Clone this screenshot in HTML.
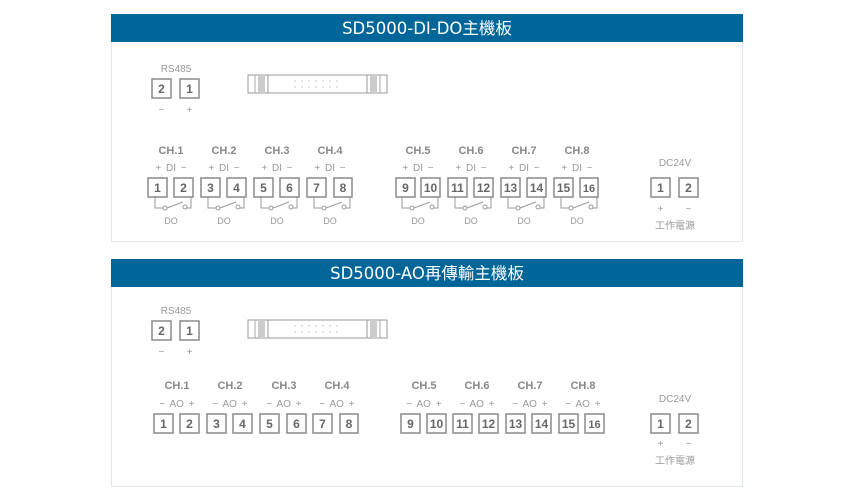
<!DOCTYPE html>
<html><head><meta charset="utf-8"><style>
body{margin:0;background:#fff;width:854px;height:500px;overflow:hidden}
svg{display:block}
text{font-family:"Liberation Sans","Noto Sans CJK TC",sans-serif;fill:#777}
.b{fill:#fff;stroke:#8a8a8a;stroke-width:1.5}
.n{font-size:12px;font-weight:bold;fill:#666;text-anchor:middle}
.ch{font-size:11px;font-weight:bold;fill:#888;text-anchor:middle}
.s{font-size:10px;fill:#999;text-anchor:middle}
.d{font-size:10px;fill:#999;text-anchor:middle;word-spacing:2px}
.l{fill:none;stroke:#999;stroke-width:1}
.h{font-size:16.5px;fill:#fff;text-anchor:middle;font-family:"DejaVu Sans","Noto Sans CJK TC",sans-serif}
</style></head><body>
<svg width="854" height="500" xmlns="http://www.w3.org/2000/svg">
<defs>
<g id="conn">
<rect x="0" y="0" width="139" height="18" fill="#fff" stroke="#999"/>
<rect x="10" y="1" width="7" height="16" fill="#ccc"/><line x1="20" y1="0" x2="20" y2="18" stroke="#999"/><line x1="7" y1="0" x2="7" y2="18" stroke="#aaa"/>
<rect x="122" y="1" width="7" height="16" fill="#ccc"/><line x1="119" y1="0" x2="119" y2="18" stroke="#999"/><line x1="132" y1="0" x2="132" y2="18" stroke="#aaa"/>
<g fill="#999"><circle cx="47" cy="6" r=".6"/><circle cx="54" cy="6" r=".6"/><circle cx="61" cy="6" r=".6"/><circle cx="68" cy="6" r=".6"/><circle cx="75" cy="6" r=".6"/><circle cx="82" cy="6" r=".6"/><circle cx="89" cy="6" r=".6"/>
<circle cx="47" cy="12" r=".6"/><circle cx="54" cy="12" r=".6"/><circle cx="61" cy="12" r=".6"/><circle cx="68" cy="12" r=".6"/><circle cx="75" cy="12" r=".6"/><circle cx="82" cy="12" r=".6"/><circle cx="89" cy="12" r=".6"/></g>
</g>
<g id="sw"><path class="l" d="M0 0V11H8M12 11L28 5M32 11H36V0"/><circle class="l" cx="10" cy="11" r="2" fill="#fff"/><circle class="l" cx="30" cy="10" r="2" fill="#fff"/></g>
</defs>
<!-- panel 1 -->
<rect x="111.5" y="14.5" width="631" height="227" fill="#fff" stroke="#dfe6ec"/>
<rect x="111" y="14" width="632" height="28" fill="#00669a"/>
<text class="h" x="427" y="34">SD5000-DI-DO主機板</text>
<text class="s" x="176" y="72">RS485</text>
<rect class="b" x="152" y="79" width="19" height="19"/><text class="n" x="161.5" y="93">2</text>
<rect class="b" x="180" y="79" width="19" height="19"/><text class="n" x="189.5" y="93">1</text>
<text class="s" x="161.5" y="113">−</text><text class="s" x="189.5" y="113">+</text>
<use href="#conn" x="248" y="75"/>
<g>
<text class="ch" x="171" y="154">CH.1</text><text class="ch" x="224" y="154">CH.2</text><text class="ch" x="277" y="154">CH.3</text><text class="ch" x="330" y="154">CH.4</text>
<text class="ch" x="418" y="154">CH.5</text><text class="ch" x="471" y="154">CH.6</text><text class="ch" x="524" y="154">CH.7</text><text class="ch" x="577" y="154">CH.8</text>
<text class="d" x="171" y="171">+ DI −</text><text class="d" x="224" y="171">+ DI −</text><text class="d" x="277" y="171">+ DI −</text><text class="d" x="330" y="171">+ DI −</text>
<text class="d" x="418" y="171">+ DI −</text><text class="d" x="471" y="171">+ DI −</text><text class="d" x="524" y="171">+ DI −</text><text class="d" x="577" y="171">+ DI −</text>
<use href="#sw" x="155" y="197"/><use href="#sw" x="208" y="197"/><use href="#sw" x="261" y="197"/><use href="#sw" x="314" y="197"/>
<use href="#sw" x="402" y="197"/><use href="#sw" x="455" y="197"/><use href="#sw" x="508" y="197"/><use href="#sw" x="561" y="197"/>
<rect class="b" x="148" y="178" width="19" height="19"/><text class="n" x="157.5" y="192">1</text>
<rect class="b" x="174" y="178" width="19" height="19"/><text class="n" x="183.5" y="192">2</text>
<rect class="b" x="201" y="178" width="19" height="19"/><text class="n" x="210.5" y="192">3</text>
<rect class="b" x="227" y="178" width="19" height="19"/><text class="n" x="236.5" y="192">4</text>
<rect class="b" x="254" y="178" width="19" height="19"/><text class="n" x="263.5" y="192">5</text>
<rect class="b" x="280" y="178" width="19" height="19"/><text class="n" x="289.5" y="192">6</text>
<rect class="b" x="307" y="178" width="19" height="19"/><text class="n" x="316.5" y="192">7</text>
<rect class="b" x="334" y="178" width="18" height="19"/><text class="n" x="343" y="192">8</text>
<rect class="b" x="396" y="178" width="19" height="19"/><text class="n" x="405.5" y="192">9</text>
<rect class="b" x="421" y="178" width="19" height="19"/><text class="n" x="430.5" y="192">10</text>
<rect class="b" x="448" y="178" width="19" height="19"/><text class="n" x="457.5" y="192">11</text>
<rect class="b" x="474" y="178" width="19" height="19"/><text class="n" x="483.5" y="192">12</text>
<rect class="b" x="501" y="178" width="19" height="19"/><text class="n" x="510.5" y="192">13</text>
<rect class="b" x="527" y="178" width="19" height="19"/><text class="n" x="536.5" y="192">14</text>
<rect class="b" x="554" y="178" width="19" height="19"/><text class="n" x="563.5" y="192">15</text>
<rect class="b" x="580" y="178" width="18" height="19"/><text class="n" x="589" y="192" style="font-size:11px">16</text>
<text class="s" x="171" y="224" style="font-size:9px">DO</text><text class="s" x="224" y="224" style="font-size:9px">DO</text><text class="s" x="277" y="224" style="font-size:9px">DO</text><text class="s" x="330" y="224" style="font-size:9px">DO</text>
<text class="s" x="418" y="224" style="font-size:9px">DO</text><text class="s" x="471" y="224" style="font-size:9px">DO</text><text class="s" x="524" y="224" style="font-size:9px">DO</text><text class="s" x="577" y="224" style="font-size:9px">DO</text>
</g>
<text class="s" x="675" y="166">DC24V</text>
<rect class="b" x="651" y="178" width="19" height="19"/><text class="n" x="660.5" y="192">1</text>
<rect class="b" x="679" y="178" width="19" height="19"/><text class="n" x="688.5" y="192">2</text>
<text class="s" x="660.5" y="212">+</text><text class="s" x="688.5" y="212">−</text>
<text class="s" x="675" y="229">工作電源</text>

<!-- panel 2 -->
<rect x="111.5" y="259.5" width="631" height="227" fill="#fff" stroke="#dfe6ec"/>
<rect x="111" y="259" width="632" height="28" fill="#00669a"/>
<text class="h" x="427" y="279">SD5000-AO再傳輸主機板</text>
<text class="s" x="176" y="314">RS485</text>
<rect class="b" x="152" y="321" width="19" height="19"/><text class="n" x="161.5" y="335">2</text>
<rect class="b" x="180" y="321" width="19" height="19"/><text class="n" x="189.5" y="335">1</text>
<text class="s" x="161.5" y="355">−</text><text class="s" x="189.5" y="355">+</text>
<use href="#conn" x="248" y="320"/>
<text class="ch" x="177" y="389">CH.1</text><text class="ch" x="230" y="389">CH.2</text><text class="ch" x="284" y="389">CH.3</text><text class="ch" x="337" y="389">CH.4</text>
<text class="ch" x="424" y="389">CH.5</text><text class="ch" x="477" y="389">CH.6</text><text class="ch" x="530" y="389">CH.7</text><text class="ch" x="583" y="389">CH.8</text>
<text class="d" x="177" y="407">− AO +</text><text class="d" x="230" y="407">− AO +</text><text class="d" x="284" y="407">− AO +</text><text class="d" x="337" y="407">− AO +</text>
<text class="d" x="424" y="407">− AO +</text><text class="d" x="477" y="407">− AO +</text><text class="d" x="530" y="407">− AO +</text><text class="d" x="583" y="407">− AO +</text>
<rect class="b" x="154" y="414" width="19" height="19"/><text class="n" x="163.5" y="428">1</text>
<rect class="b" x="180" y="414" width="19" height="19"/><text class="n" x="189.5" y="428">2</text>
<rect class="b" x="207" y="414" width="19" height="19"/><text class="n" x="216.5" y="428">3</text>
<rect class="b" x="233" y="414" width="19" height="19"/><text class="n" x="242.5" y="428">4</text>
<rect class="b" x="260" y="414" width="19" height="19"/><text class="n" x="269.5" y="428">5</text>
<rect class="b" x="287" y="414" width="19" height="19"/><text class="n" x="296.5" y="428">6</text>
<rect class="b" x="313" y="414" width="19" height="19"/><text class="n" x="322.5" y="428">7</text>
<rect class="b" x="340" y="414" width="18" height="19"/><text class="n" x="349" y="428">8</text>
<rect class="b" x="401" y="414" width="19" height="19"/><text class="n" x="410.5" y="428">9</text>
<rect class="b" x="427" y="414" width="19" height="19"/><text class="n" x="436.5" y="428">10</text>
<rect class="b" x="453" y="414" width="19" height="19"/><text class="n" x="462.5" y="428">11</text>
<rect class="b" x="479" y="414" width="19" height="19"/><text class="n" x="488.5" y="428">12</text>
<rect class="b" x="506" y="414" width="19" height="19"/><text class="n" x="515.5" y="428">13</text>
<rect class="b" x="532" y="414" width="19" height="19"/><text class="n" x="541.5" y="428">14</text>
<rect class="b" x="559" y="414" width="19" height="19"/><text class="n" x="568.5" y="428">15</text>
<rect class="b" x="585" y="414" width="19" height="19"/><text class="n" x="594.5" y="428" style="font-size:11px">16</text>
<text class="s" x="675" y="402">DC24V</text>
<rect class="b" x="651" y="414" width="19" height="19"/><text class="n" x="660.5" y="428">1</text>
<rect class="b" x="679" y="414" width="19" height="19"/><text class="n" x="688.5" y="428">2</text>
<text class="s" x="660.5" y="447">+</text><text class="s" x="688.5" y="447">−</text>
<text class="s" x="675" y="464">工作電源</text>
</svg>
</body></html>
